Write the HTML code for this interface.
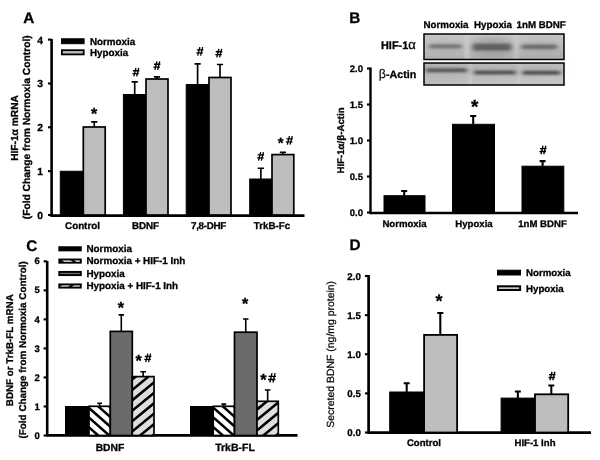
<!DOCTYPE html>
<html><head><meta charset="utf-8"><title>Figure</title>
<style>
html,body{margin:0;padding:0;background:#fff;}
body{width:600px;height:460px;overflow:hidden;font-family:"Liberation Sans", sans-serif;}
svg{display:block;font-family:"Liberation Sans", sans-serif;fill:#000;will-change:transform;}
text{text-rendering:geometricPrecision;stroke:#000;stroke-width:0.3px;}
text.n{stroke-width:0.2px;}
</style></head><body>
<svg width="600" height="460" viewBox="0 0 600 460">
<rect width="600" height="460" fill="#fff"/>
<defs>
<pattern id="hw" width="8.5" height="8.5" patternUnits="userSpaceOnUse" patternTransform="translate(89 406) rotate(40)"><rect width="8.5" height="8.5" fill="#fff"/><rect width="8.5" height="2.2" fill="#000"/></pattern>
<pattern id="hg" width="8.5" height="8.5" patternUnits="userSpaceOnUse" patternTransform="translate(132 376) rotate(-40)"><rect width="8.5" height="8.5" fill="#dedede"/><rect width="8.5" height="2.2" fill="#000"/></pattern>
<pattern id="hwl" width="7" height="7" patternUnits="userSpaceOnUse" patternTransform="translate(60 259) rotate(35)"><rect width="7" height="7" fill="#fff"/><rect width="7" height="2" fill="#000"/></pattern>
<pattern id="hgl" width="7" height="7" patternUnits="userSpaceOnUse" patternTransform="translate(60 284) rotate(-35)"><rect width="7" height="7" fill="#dedede"/><rect width="7" height="2" fill="#000"/></pattern>
<linearGradient id="bg1" x1="0" y1="0" x2="0.15" y2="1"><stop offset="0" stop-color="#c6c6c6"/><stop offset=".55" stop-color="#bebebe"/><stop offset="1" stop-color="#adadad"/></linearGradient>
<linearGradient id="bg2" x1="0" y1="0" x2="1" y2="1"><stop offset="0" stop-color="#b4b4b4"/><stop offset="1" stop-color="#c8c8c8"/></linearGradient>
<filter id="blur" x="-5%" y="-5%" width="110%" height="110%"><feGaussianBlur stdDeviation="1.2"/></filter>
<filter id="blur2" x="-5%" y="-20%" width="110%" height="140%"><feGaussianBlur stdDeviation="1.9 1.3"/></filter>
<filter id="blur3" x="-10%" y="-30%" width="120%" height="160%"><feGaussianBlur stdDeviation="3"/></filter>
</defs>
<text x="23.2" y="23.0" font-size="15.3" font-weight="bold" text-anchor="start" >A</text>
<path d="M51.6 38.9V215.6H304.5" stroke="#000" stroke-width="2.6" fill="none" stroke-linejoin="miter"/>
<path d="M48.0 215.0H51.6" stroke="#000" stroke-width="2.1"/>
<text x="43.0" y="218.91" font-size="10.3" font-weight="bold" text-anchor="end" >0</text>
<path d="M48.0 171.15H51.6" stroke="#000" stroke-width="2.1"/>
<text x="43.0" y="175.06" font-size="10.3" font-weight="bold" text-anchor="end" >1</text>
<path d="M48.0 127.3H51.6" stroke="#000" stroke-width="2.1"/>
<text x="43.0" y="131.21" font-size="10.3" font-weight="bold" text-anchor="end" >2</text>
<path d="M48.0 83.45H51.6" stroke="#000" stroke-width="2.1"/>
<text x="43.0" y="87.36" font-size="10.3" font-weight="bold" text-anchor="end" >3</text>
<path d="M48.0 39.6H51.6" stroke="#000" stroke-width="2.1"/>
<text x="43.0" y="43.51" font-size="10.3" font-weight="bold" text-anchor="end" >4</text>
<text transform="translate(17.6,128) rotate(-90)" font-size="10.2" font-weight="bold" text-anchor="middle">HIF-1&#945; mRNA</text>
<text transform="translate(30.2,127.3) rotate(-90)" font-size="10.25" font-weight="bold" text-anchor="middle">(Fold Change from Normoxia Control)</text>
<rect x="61.5" y="38.8" width="22.6" height="4.9" fill="#000" stroke="#000" stroke-width="1"/>
<rect x="61.9" y="50.2" width="21.8" height="4.2" fill="#bdbdbd" stroke="#000" stroke-width="1.8"/>
<text x="90" y="44.7" font-size="9.8" font-weight="bold" text-anchor="start" >Normoxia</text>
<text x="90" y="55.6" font-size="9.8" font-weight="bold" text-anchor="start" >Hypoxia</text>
<path d="M94.25 127V121.8M91.15 121.8H97.35" stroke="#000" stroke-width="1.65" fill="none"/>
<rect x="60.3" y="171.25" width="23.0" height="43.75" fill="#000" stroke="#000" stroke-width="1"/>
<rect x="83.3" y="127" width="21.9" height="88" fill="#bdbdbd" stroke="#000" stroke-width="1.7"/>
<path d="M134.7 94.5V81.8M131.6 81.8H137.79999999999998" stroke="#000" stroke-width="1.65" fill="none"/>
<path d="M157.0 79V76.8M153.9 76.8H160.1" stroke="#000" stroke-width="1.65" fill="none"/>
<rect x="123.4" y="94.5" width="22.6" height="120.5" fill="#000" stroke="#000" stroke-width="1"/>
<rect x="146" y="79" width="22" height="136" fill="#bdbdbd" stroke="#000" stroke-width="1.7"/>
<path d="M197.6 84.5V63.8M194.5 63.8H200.7" stroke="#000" stroke-width="1.65" fill="none"/>
<path d="M220.0 77.5V64.5M216.9 64.5H223.1" stroke="#000" stroke-width="1.65" fill="none"/>
<rect x="186.2" y="84.5" width="22.8" height="130.5" fill="#000" stroke="#000" stroke-width="1"/>
<rect x="209" y="77.5" width="22" height="137.5" fill="#bdbdbd" stroke="#000" stroke-width="1.7"/>
<path d="M260.85 179V168.2M257.75 168.2H263.95000000000005" stroke="#000" stroke-width="1.65" fill="none"/>
<path d="M282.9 154.6V152.3M279.79999999999995 152.3H286.0" stroke="#000" stroke-width="1.65" fill="none"/>
<rect x="249.7" y="179" width="22.3" height="36" fill="#000" stroke="#000" stroke-width="1"/>
<rect x="272" y="154.6" width="21.8" height="60.4" fill="#bdbdbd" stroke="#000" stroke-width="1.7"/>
<text x="82.5" y="228.9" font-size="9.8" font-weight="bold" text-anchor="middle" >Control</text>
<text x="145.5" y="228.9" font-size="9.8" font-weight="bold" text-anchor="middle" >BDNF</text>
<text x="208.5" y="228.9" font-size="9.8" font-weight="bold" text-anchor="middle" letter-spacing="-0.3">7,8-DHF</text>
<text x="272" y="228.9" font-size="9.8" font-weight="bold" text-anchor="middle" >TrkB-Fc</text>
<text x="94" y="118.62" font-size="16" font-weight="bold" text-anchor="middle" >*</text>
<path d="M135.95 67.85L133.85 76.35M138.75 67.85L136.65 76.35M132.90 70.74H139.40M132.40 73.63H138.90" stroke="#000" stroke-width="1.35" fill="none"/>
<path d="M156.95 61.35L154.85 69.85M159.75 61.35L157.65 69.85M153.90 64.24H160.40M153.40 67.13H159.90" stroke="#000" stroke-width="1.35" fill="none"/>
<path d="M199.85 47.05L197.75 55.55M202.65 47.05L200.55 55.55M196.80 49.94H203.30M196.30 52.83H202.80" stroke="#000" stroke-width="1.35" fill="none"/>
<path d="M218.85 48.85L216.75 57.35M221.65 48.85L219.55 57.35M215.80 51.74H222.30M215.30 54.63H221.80" stroke="#000" stroke-width="1.35" fill="none"/>
<path d="M260.65 152.05L258.55 160.55M263.45 152.05L261.35 160.55M257.60 154.94H264.10M257.10 157.83H263.60" stroke="#000" stroke-width="1.35" fill="none"/>
<text x="280.75" y="147.9" font-size="15" font-weight="bold" text-anchor="middle" >*</text>
<path d="M289.45 136.05L287.35 144.55M292.25 136.05L290.15 144.55M286.40 138.94H292.90M285.90 141.83H292.40" stroke="#000" stroke-width="1.35" fill="none"/>
<text x="349.3" y="23.2" font-size="15.3" font-weight="bold" text-anchor="start" >B</text>
<path d="M370.5 67.4V213.0H578" stroke="#000" stroke-width="2.4" fill="none" stroke-linejoin="miter"/>
<path d="M367.0 212.5H370.5" stroke="#000" stroke-width="2.1"/>
<text x="363" y="215.62" font-size="9.5" font-weight="bold" text-anchor="end" >0.0</text>
<path d="M367.0 176.5H370.5" stroke="#000" stroke-width="2.1"/>
<text x="363" y="179.62" font-size="9.5" font-weight="bold" text-anchor="end" >0.5</text>
<path d="M367.0 140.5H370.5" stroke="#000" stroke-width="2.1"/>
<text x="363" y="143.62" font-size="9.5" font-weight="bold" text-anchor="end" >1.0</text>
<path d="M367.0 104.5H370.5" stroke="#000" stroke-width="2.1"/>
<text x="363" y="107.62" font-size="9.5" font-weight="bold" text-anchor="end" >1.5</text>
<path d="M367.0 68.5H370.5" stroke="#000" stroke-width="2.1"/>
<text x="363" y="71.62" font-size="9.5" font-weight="bold" text-anchor="end" >2.0</text>
<text transform="translate(343.5,140.5) rotate(-90)" font-size="9.7" font-weight="bold" text-anchor="middle">HIF-1&#945;/&#946;-Actin</text>
<text x="423.5" y="27.8" font-size="9.75" font-weight="bold" text-anchor="start" >Normoxia</text>
<text x="474" y="27.8" font-size="9.75" font-weight="bold" text-anchor="start" >Hypoxia</text>
<text x="516.5" y="27.8" font-size="9.75" font-weight="bold" text-anchor="start" >1nM BDNF</text>
<text x="381" y="49.3" font-size="10.9" font-weight="bold" text-anchor="start" >HIF-1<tspan font-weight="normal" font-size="13" stroke-width="0.3">&#945;</tspan></text>
<text x="378.8" y="78.2" font-size="10.7" font-weight="bold" text-anchor="start" ><tspan font-weight="normal" font-size="12.5" stroke-width="0.15">&#946;</tspan>-Actin</text>
<g filter="url(#blur)">
<rect x="423" y="33" width="142" height="27.5" fill="url(#bg1)"/>
<rect x="464" y="33" width="6" height="27" fill="#d0d0d0" opacity=".55"/>
<rect x="513" y="33" width="6" height="27" fill="#d0d0d0" opacity=".45"/>
<rect x="423" y="62" width="142" height="24" fill="url(#bg2)"/>
<rect x="468" y="62" width="4.5" height="24" fill="#d4d4d4" opacity=".5"/>
<rect x="517" y="62" width="4.5" height="24" fill="#d4d4d4" opacity=".4"/>
</g>
<g filter="url(#blur3)">
<ellipse cx="492" cy="47" rx="22" ry="9" fill="#888" opacity=".55"/>
<ellipse cx="445" cy="46.5" rx="18" ry="5" fill="#999" opacity=".4"/>
<ellipse cx="539" cy="46.8" rx="19" ry="5" fill="#999" opacity=".4"/>
<rect x="425" y="67" width="138" height="8" fill="#999" opacity=".35"/>
</g>
<g filter="url(#blur2)">
<rect x="429" y="44.2" width="33" height="4.4" rx="2.2" fill="#4c4c4c" opacity="0.58"/>
<rect x="473" y="43.8" width="38" height="6.8" rx="2.2" fill="#4c4c4c" opacity="0.74"/>
<rect x="521" y="44.6" width="36.5" height="4.6" rx="2.2" fill="#4c4c4c" opacity="0.66"/>
<rect x="426" y="68.3" width="41" height="4.0" rx="1.9" fill="#383838" opacity="0.72"/>
<rect x="474" y="70.4" width="42" height="4.1" rx="1.9" fill="#383838" opacity="0.78"/>
<rect x="522.5" y="70.7" width="38" height="4.1" rx="1.9" fill="#383838" opacity="0.8"/>
</g>
<path d="M420 30H568V61H420ZM424 34V59.5H564V34Z" fill="#fff" fill-rule="evenodd"/>
<path d="M420 61H568V89H420ZM424 63V85H564V63Z" fill="#fff" fill-rule="evenodd"/>
<rect x="424" y="34" width="140" height="25.5" fill="none" stroke="#000" stroke-width="1.5"/>
<rect x="424" y="63" width="140" height="22" fill="none" stroke="#000" stroke-width="1.5"/>
<path d="M404.2 195.7V191M401.2 191H407.2" stroke="#000" stroke-width="2.05" fill="none"/>
<rect x="384" y="195.7" width="41" height="16.8" fill="#000" stroke="#000" stroke-width="1"/>
<path d="M473.2 124.3V116M470.2 116H476.2" stroke="#000" stroke-width="2.05" fill="none"/>
<rect x="452.5" y="124.3" width="42.0" height="88.2" fill="#000" stroke="#000" stroke-width="1"/>
<path d="M542.6 166.2V161.1M539.6 161.1H545.6" stroke="#000" stroke-width="2.05" fill="none"/>
<rect x="522" y="166.2" width="41.8" height="46.3" fill="#000" stroke="#000" stroke-width="1"/>
<text x="404.5" y="226.8" font-size="9.6" font-weight="bold" text-anchor="middle" >Normoxia</text>
<text x="474" y="226.8" font-size="9.6" font-weight="bold" text-anchor="middle" >Hypoxia</text>
<text x="542.5" y="226.8" font-size="9.6" font-weight="bold" text-anchor="middle" >1nM BDNF</text>
<text x="474.7" y="113.48" font-size="19" font-weight="bold" text-anchor="middle" >*</text>
<path d="M543.05 145.75L540.95 154.25M545.85 145.75L543.75 154.25M540.00 148.64H546.50M539.50 151.53H546.00" stroke="#000" stroke-width="1.35" fill="none"/>
<text x="26.2" y="250.5" font-size="15.3" font-weight="bold" text-anchor="start" >C</text>
<path d="M47.2 260.9V435.4H297.5" stroke="#000" stroke-width="2.6" fill="none" stroke-linejoin="miter"/>
<path d="M43.6 435.5H47.2" stroke="#000" stroke-width="2.1"/>
<text x="39.8" y="438.62" font-size="9.5" font-weight="bold" text-anchor="end" >0</text>
<path d="M43.6 406.47H47.2" stroke="#000" stroke-width="2.1"/>
<text x="39.8" y="409.59" font-size="9.5" font-weight="bold" text-anchor="end" >1</text>
<path d="M43.6 377.44H47.2" stroke="#000" stroke-width="2.1"/>
<text x="39.8" y="380.56" font-size="9.5" font-weight="bold" text-anchor="end" >2</text>
<path d="M43.6 348.41H47.2" stroke="#000" stroke-width="2.1"/>
<text x="39.8" y="351.53" font-size="9.5" font-weight="bold" text-anchor="end" >3</text>
<path d="M43.6 319.38H47.2" stroke="#000" stroke-width="2.1"/>
<text x="39.8" y="322.5" font-size="9.5" font-weight="bold" text-anchor="end" >4</text>
<path d="M43.6 290.35H47.2" stroke="#000" stroke-width="2.1"/>
<text x="39.8" y="293.47" font-size="9.5" font-weight="bold" text-anchor="end" >5</text>
<path d="M43.6 261.32H47.2" stroke="#000" stroke-width="2.1"/>
<text x="39.8" y="264.44" font-size="9.5" font-weight="bold" text-anchor="end" >6</text>
<text transform="translate(12.7,350.2) rotate(-90)" font-size="9.8" font-weight="bold" text-anchor="middle">BDNF or TrkB-FL mRNA</text>
<text transform="translate(26.2,349.9) rotate(-90)" font-size="9.9" font-weight="bold" text-anchor="middle">(Fold Change from Normoxia Control)</text>
<rect x="59.3" y="247.20000000000002" width="21.5" height="3.2" fill="#000" stroke="#000" stroke-width="1.9"/>
<text x="86.5" y="251.6" font-size="9.85" font-weight="bold" text-anchor="start" >Normoxia</text>
<rect x="59.3" y="259.5" width="21.5" height="3.2" fill="url(#hwl)" stroke="#000" stroke-width="1.9"/>
<text x="86.5" y="264.3" font-size="9.85" font-weight="bold" text-anchor="start" >Normoxia + HIF-1 Inh</text>
<rect x="59.3" y="271.9" width="21.5" height="3.2" fill="#6b6b6b" stroke="#000" stroke-width="1.9"/>
<text x="86.5" y="276.9" font-size="9.85" font-weight="bold" text-anchor="start" >Hypoxia</text>
<rect x="59.3" y="284.4" width="21.5" height="3.2" fill="url(#hgl)" stroke="#000" stroke-width="1.9"/>
<text x="86.5" y="289.4" font-size="9.85" font-weight="bold" text-anchor="start" >Hypoxia + HIF-1 Inh</text>
<path d="M99.65 406.3V403.3M97.25 403.3H102.05000000000001" stroke="#000" stroke-width="1.6" fill="none"/>
<path d="M121.30000000000001 331.4V314.9M118.60000000000001 314.9H124.00000000000001" stroke="#000" stroke-width="1.6" fill="none"/>
<path d="M143.15 376.6V371.7M140.35 371.7H145.95000000000002" stroke="#000" stroke-width="1.6" fill="none"/>
<rect x="65.5" y="406.5" width="23.5" height="29.0" fill="#000" stroke="#000" stroke-width="1"/>
<clipPath id="c1"><rect x="89" y="406.3" width="21.3" height="29.2"/></clipPath>
<rect x="89" y="406.3" width="21.3" height="29.2" fill="#fff"/>
<path d="M87.00 386.79L112.30 409.05M87.00 396.49L112.30 418.75M87.00 406.19L112.30 428.45M87.00 415.89L112.30 438.15M87.00 425.59L112.30 447.85M87.00 435.29L112.30 457.55M87.00 444.99L112.30 467.25M87.00 454.69L112.30 476.95M87.00 464.39L112.30 486.65" stroke="#000" stroke-width="2.55" fill="none" clip-path="url(#c1)"/>
<rect x="89" y="406.3" width="21.3" height="29.2" fill="none" stroke="#000" stroke-width="1.7"/>
<rect x="110.3" y="331.4" width="22.0" height="104.1" fill="#6b6b6b" stroke="#000" stroke-width="1.7"/>
<clipPath id="c2"><rect x="132.3" y="376.6" width="21.7" height="58.9"/></clipPath>
<rect x="132.3" y="376.6" width="21.7" height="58.9" fill="#dedede"/>
<path d="M130.30 360.29L156.00 339.22M130.30 370.69L156.00 349.62M130.30 381.09L156.00 360.02M130.30 391.49L156.00 370.42M130.30 401.89L156.00 380.82M130.30 412.29L156.00 391.22M130.30 422.69L156.00 401.62M130.30 433.09L156.00 412.02M130.30 443.49L156.00 422.42M130.30 453.89L156.00 432.82M130.30 464.29L156.00 443.22" stroke="#000" stroke-width="2.55" fill="none" clip-path="url(#c2)"/>
<rect x="132.3" y="376.6" width="21.7" height="58.9" fill="none" stroke="#000" stroke-width="1.7"/>
<path d="M223.85 406.3V404.1M221.45 404.1H226.25" stroke="#000" stroke-width="1.6" fill="none"/>
<path d="M245.75 332.2V319M243.05 319H248.45" stroke="#000" stroke-width="1.6" fill="none"/>
<path d="M267.65 401.3V390M264.84999999999997 390H270.45" stroke="#000" stroke-width="1.6" fill="none"/>
<rect x="190.5" y="406.5" width="22.7" height="29.0" fill="#000" stroke="#000" stroke-width="1"/>
<clipPath id="c3"><rect x="213.2" y="406.3" width="21.3" height="29.2"/></clipPath>
<rect x="213.2" y="406.3" width="21.3" height="29.2" fill="#fff"/>
<path d="M211.20 386.44L236.50 408.70M211.20 396.14L236.50 418.40M211.20 405.84L236.50 428.10M211.20 415.54L236.50 437.80M211.20 425.24L236.50 447.50M211.20 434.94L236.50 457.20M211.20 444.64L236.50 466.90M211.20 454.34L236.50 476.60M211.20 464.04L236.50 486.30" stroke="#000" stroke-width="2.55" fill="none" clip-path="url(#c3)"/>
<rect x="213.2" y="406.3" width="21.3" height="29.2" fill="none" stroke="#000" stroke-width="1.7"/>
<rect x="234.5" y="332.2" width="22.5" height="103.3" fill="#6b6b6b" stroke="#000" stroke-width="1.7"/>
<clipPath id="c4"><rect x="257" y="401.3" width="21.3" height="34.2"/></clipPath>
<rect x="257" y="401.3" width="21.3" height="34.2" fill="#dedede"/>
<path d="M255.00 390.34L280.30 369.59M255.00 400.74L280.30 379.99M255.00 411.14L280.30 390.39M255.00 421.54L280.30 400.79M255.00 431.94L280.30 411.19M255.00 442.34L280.30 421.59M255.00 452.74L280.30 431.99M255.00 463.14L280.30 442.39" stroke="#000" stroke-width="2.55" fill="none" clip-path="url(#c4)"/>
<rect x="257" y="401.3" width="21.3" height="34.2" fill="none" stroke="#000" stroke-width="1.7"/>
<text x="110" y="451" font-size="10.3" font-weight="bold" text-anchor="middle" >BDNF</text>
<text x="235" y="451" font-size="10.5" font-weight="bold" text-anchor="middle" >TrkB-FL</text>
<text x="120.8" y="312.72" font-size="16" font-weight="bold" text-anchor="middle" >*</text>
<text x="245" y="308.82" font-size="16" font-weight="bold" text-anchor="middle" >*</text>
<text x="138.5" y="366.42" font-size="16" font-weight="bold" text-anchor="middle" >*</text>
<path d="M147.85 353.65L145.75 362.15M150.65 353.65L148.55 362.15M144.80 356.54H151.30M144.30 359.43H150.80" stroke="#000" stroke-width="1.35" fill="none"/>
<text x="263.4" y="385.32" font-size="16" font-weight="bold" text-anchor="middle" >*</text>
<path d="M271.97 373.10L269.87 382.50M275.09 373.10L272.99 382.50M268.60 376.30H275.90M268.10 379.49H275.40" stroke="#000" stroke-width="1.35" fill="none"/>
<text x="349.6" y="250.2" font-size="15.3" font-weight="bold" text-anchor="start" >D</text>
<path d="M368.6 274.9V432.6H591" stroke="#000" stroke-width="2.7" fill="none" stroke-linejoin="miter"/>
<path d="M364.95 432.5H368.6" stroke="#000" stroke-width="2.1"/>
<text x="360.8" y="436.39" font-size="9.7" font-weight="bold" text-anchor="end" >0.0</text>
<path d="M364.95 393.38H368.6" stroke="#000" stroke-width="2.1"/>
<text x="360.8" y="397.27" font-size="9.7" font-weight="bold" text-anchor="end" >0.5</text>
<path d="M364.95 354.25H368.6" stroke="#000" stroke-width="2.1"/>
<text x="360.8" y="358.14" font-size="9.7" font-weight="bold" text-anchor="end" >1.0</text>
<path d="M364.95 315.12H368.6" stroke="#000" stroke-width="2.1"/>
<text x="360.8" y="319.02" font-size="9.7" font-weight="bold" text-anchor="end" >1.5</text>
<path d="M364.95 276.0H368.6" stroke="#000" stroke-width="2.1"/>
<text x="360.8" y="279.89" font-size="9.7" font-weight="bold" text-anchor="end" >2.0</text>
<text transform="translate(334.0,354.3) rotate(-90)" font-size="10.45" font-weight="normal" text-anchor="middle" class="n">Secreted BDNF (ng/mg protein)</text>
<rect x="497.5" y="270.2" width="23.0" height="4.8" fill="#000" stroke="#000" stroke-width="1"/>
<rect x="497.9" y="286.3" width="22.2" height="3.7" fill="#c8c8c8" stroke="#000" stroke-width="2.0"/>
<text x="526" y="275.7" font-size="9.7" font-weight="bold" text-anchor="start" >Normoxia</text>
<text x="526" y="291.7" font-size="9.7" font-weight="bold" text-anchor="start" >Hypoxia</text>
<path d="M406.7 392V383.2M403.7 383.2H409.7" stroke="#000" stroke-width="2.05" fill="none"/>
<path d="M440.3 334.9V312.9M437.3 312.9H443.3" stroke="#000" stroke-width="2.05" fill="none"/>
<rect x="389.7" y="392" width="34.4" height="40.5" fill="#000" stroke="#000" stroke-width="1"/>
<rect x="424.1" y="334.9" width="33.0" height="97.6" fill="#bdbdbd" stroke="#000" stroke-width="1.8"/>
<path d="M517.8499999999999 398.1V391.5M514.8499999999999 391.5H520.8499999999999" stroke="#000" stroke-width="2.05" fill="none"/>
<path d="M551.3000000000001 394.3V385.5M548.3000000000001 385.5H554.3000000000001" stroke="#000" stroke-width="2.05" fill="none"/>
<rect x="501.1" y="398.1" width="33.9" height="34.4" fill="#000" stroke="#000" stroke-width="1"/>
<rect x="535" y="394.3" width="33.2" height="38.2" fill="#bdbdbd" stroke="#000" stroke-width="1.8"/>
<text x="424" y="446.0" font-size="9.6" font-weight="bold" text-anchor="middle" >Control</text>
<text x="535" y="446.0" font-size="9.6" font-weight="bold" text-anchor="middle" >HIF-1 Inh</text>
<text x="439" y="307.36" font-size="18" font-weight="bold" text-anchor="middle" >*</text>
<path d="M552.05 371.75L549.95 380.25M554.85 371.75L552.75 380.25M549.00 374.64H555.50M548.50 377.53H555.00" stroke="#000" stroke-width="1.35" fill="none"/>
</svg>
</body></html>
